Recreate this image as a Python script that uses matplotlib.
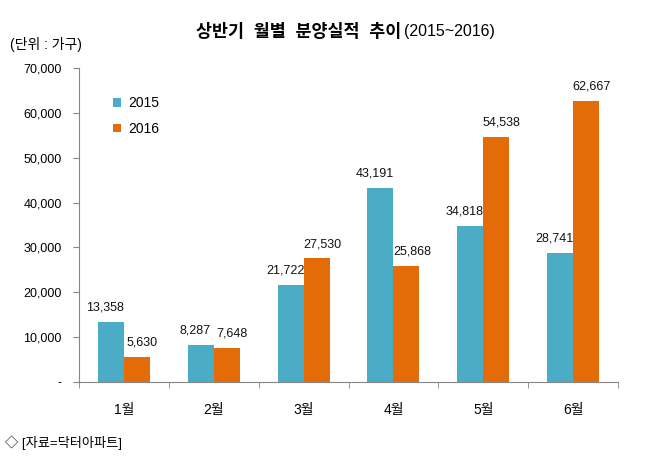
import numpy as np
import matplotlib.pyplot as plt
from matplotlib.ticker import FuncFormatter

plt.rcParams['font.family'] = ['Liberation Sans', 'Noto Sans CJK KR', 'DejaVu Sans']

months = ['1월', '2월', '3월', '4월', '5월', '6월']
sales_2015 = [13358, 8287, 21722, 43191, 34818, 28741]
sales_2016 = [5630, 7648, 27530, 25868, 54538, 62667]

c15 = '#4BACC6'
c16 = '#E36C09'
grey = '#868686'

fig = plt.figure(figsize=(6.6, 4.58), dpi=100)
ax = fig.add_axes([0.1197, 0.166, 0.8167, 0.6856])

x = np.arange(len(months))
w = 0.29
b1 = ax.bar(x - w / 2, sales_2015, w, color=c15, label='2015')
b2 = ax.bar(x + w / 2, sales_2016, w, color=c16, label='2016')

# labels nudged sideways a little, like the original
for bars, dx in ((b1, -4), (b2, 4)):
    for r in bars:
        ax.annotate(f'{int(r.get_height()):,}',
                    (r.get_x() + r.get_width() / 2, r.get_height()),
                    xytext=(dx, 6), textcoords='offset points',
                    ha='center', va='bottom', fontsize=9, color='#111111')

ax.set_xlim(-0.5, 5.5)
ax.set_ylim(0, 70000)
ax.set_yticks(np.arange(0, 70001, 10000))
ax.yaxis.set_major_formatter(FuncFormatter(lambda v, p: '-' if v == 0 else f'{int(v):,}'))
ax.set_xticks(x)
ax.set_xticklabels(months)
ax.set_xticks(np.arange(-0.5, 6, 1), minor=True)
ax.tick_params(axis='x', which='major', length=0, pad=15, labelsize=10)
ax.tick_params(axis='x', which='minor', length=4, color=grey)
ax.tick_params(axis='y', length=4.3, color=grey, labelsize=9, pad=8)

for s in ['top', 'right']:
    ax.spines[s].set_visible(False)
ax.spines['left'].set_color(grey)
ax.spines['bottom'].set_color(grey)

ax.legend(loc='upper left', bbox_to_anchor=(0.04, 0.95), frameon=False,
          fontsize=10, handlelength=0.6, handleheight=0.6, labelspacing=0.85,
          handletextpad=0.5)

fig.text(0.297, 0.932, '상반기  월별  분양실적  추이', fontsize=12.5, fontweight='bold',
         ha='left', va='center')
fig.text(0.612, 0.932, '(2015~2016)', fontsize=11.5, ha='left', va='center')
fig.text(0.015, 0.903, '(단위 : 가구)', fontsize=10, ha='left', va='center')
fig.text(0.008, 0.033, '◇ [자료=닥터아파트]', fontsize=9.5, ha='left', va='center')

fig.savefig('out.png', dpi=100)
